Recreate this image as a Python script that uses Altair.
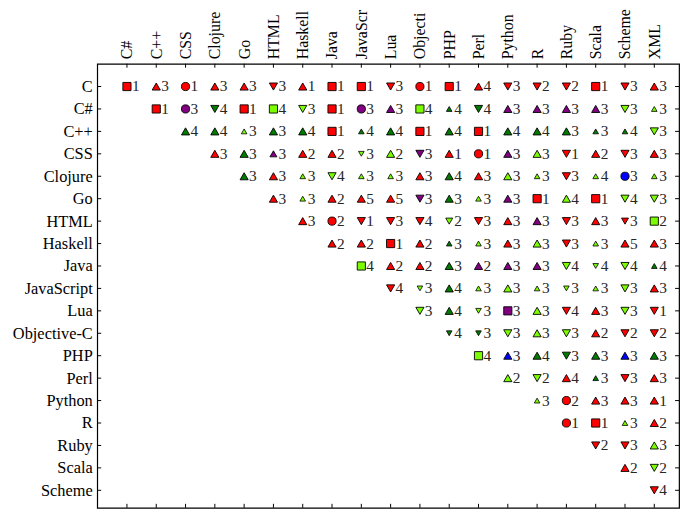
import altair as alt
import pandas as pd

FONT = "Liberation Serif"

rows = ["C", "C#", "C++", "CSS", "Clojure", "Go", "HTML", "Haskell", "Java",
        "JavaScript", "Lua", "Objective-C", "PHP", "Perl", "Python", "R",
        "Ruby", "Scala", "Scheme"]
col_labels = ["C#", "C++", "CSS", "Clojure", "Go", "HTML", "Haskell", "Java",
              "JavaScr", "Lua", "Objecti", "PHP", "Perl", "Python", "R",
              "Ruby", "Scala", "Scheme", "XML"]

# cell codes: shape (s square, ^ up, v down, o circle), colour
# (r red, g green, l light green, p purple, b blue), size class (L/M/S), value
row_C = ["srL1", "^rL3", "orL1", "^rL3", "^rL3", "vrL3", "^rL1", "srL1", "srL1", "vrL3",
         "orL1", "srL1", "^rL4", "vrL3", "vrL2", "vrL2", "srL1", "vrL3", "^rL3"]
row_Csharp = ["srL1", "opL3", "vgL4", "srL1", "slL4", "vlL3", "srL1", "opL3", "^pL3",
              "slL4", "^gS4", "vgL4", "^pL3", "^pL3", "^pL3", "^pL3", "vlL3", "^lS3"]
row_Cpp = ["^gL4", "^gL4", "^lS3", "^gL3", "^gL4", "srL1", "^gS4", "^gL4", "srL1",
           "^gL4", "srL1", "^gL4", "^gL4", "^gL3", "^gS3", "^gS4", "vlL3"]
row_CSS = ["^rL3", "^gL3", "^pM3", "^rL2", "^rL2", "vlS3", "^lL2", "vpL3", "^rL1",
           "orL1", "^pL3", "^lL3", "vrL1", "^rL2", "vrL3", "^rL3"]
row_Clojure = ["^gL3", "^rL3", "^lS3", "vlL4", "^lS3", "^lS3", "^rL3", "^gL4", "^rL3",
               "^lL3", "^lS3", "vrL3", "^lS4", "obL3", "^lS3"]
row_Go = ["^rL3", "^lS3", "^rL2", "^rL5", "^rL5", "vpL3", "^gL3", "^lS3", "^pL3",
          "srL1", "^lL4", "srL1", "vlL4", "vlL3"]
row_HTML = ["^rL3", "orL2", "vrL1", "vrL3", "vrL4", "vlM2", "vrL3", "^rL3", "^pL3",
            "vrL3", "^rL3", "vrM3", "slL2"]
row_Haskell = ["^rL2", "^rL2", "srL1", "^rL2", "^gS3", "^lS3", "^rL3", "^lL3", "vrL3",
               "^lS3", "^rL5", "^rL3"]
row_Java = ["slL4", "^rL2", "^rL2", "^gL3", "^pL2", "^pL3", "^pL3", "vlL4", "vlS4",
            "vlL4", "^gS4"]
row_JavaScript = ["vrL4", "vlS3", "^gL4", "^lS3", "^lL3", "^lS3", "vlS3", "^lS3",
                  "vlL3", "^rL3"]
row_Lua = ["vlL3", "^gL4", "vlS3", "spL3", "^lL3", "vrL4", "^rL3", "vlL3", "vrL1"]
row_ObjC = ["vgS4", "vgS3", "vlL3", "^lL3", "vlL3", "^rL2", "vrL2", "vrL2"]
row_PHP = ["slL4", "^bL3", "^gL4", "vgL3", "^gL3", "^bL3", "^gL3"]
row_Perl = ["^lL2", "vlL2", "^rL4", "^gS3", "vrL3", "^rL3"]
row_Python = ["^lS3", "orL2", "^rL3", "^rL3", "^rL1"]
row_R = ["orL1", "srL1", "^lS3", "^rL2"]
row_Ruby = ["vrL2", "vrL3", "^lL3"]
row_Scala = ["^rL2", "vlL2"]
row_Scheme = ["vrL4"]

cell_rows = [row_C, row_Csharp, row_Cpp, row_CSS, row_Clojure, row_Go, row_HTML,
             row_Haskell, row_Java, row_JavaScript, row_Lua, row_ObjC, row_PHP,
             row_Perl, row_Python, row_R, row_Ruby, row_Scala, row_Scheme]

recs = []
for i, cells in enumerate(cell_rows):
    for k, code in enumerate(cells):
        recs.append({"row": i, "col": i + k, "shape": code[0], "colour": code[1],
                     "sz": code[2], "value": int(code[3:])})
df = pd.DataFrame(recs)
row_df = pd.DataFrame({"row": list(range(len(rows)))})
col_df = pd.DataFrame({"col": list(range(len(col_labels)))})

W, H = 587, 448
TICK = 4

def arr_expr(lst):
    return "[" + ",".join("'" + s + "'" for s in lst) + "][datum.value]"

xscale = alt.Scale(domain=[-1.015, 18.845], nice=False, zero=False)
yscale = alt.Scale(domain=[-1.016, 18.78], nice=False, zero=False, reverse=True)

xaxis = alt.Axis(orient="top", values=list(range(len(col_labels))),
                 labelExpr=arr_expr(col_labels), labelAngle=270, labelAlign="left",
                 labelBaseline="middle", labelPadding=5, labelFontSize=16,
                 title=None)
yaxis = alt.Axis(orient="left", values=list(range(len(rows))),
                 labelExpr=arr_expr(rows), labelPadding=5, title=None)

X = alt.X("col:Q", scale=xscale, axis=xaxis)
Y = alt.Y("row:Q", scale=yscale, axis=yaxis)

points = alt.Chart(df).mark_point(filled=True, stroke="black", opacity=1).encode(
    x=X, y=Y,
    shape=alt.Shape("shape:N", scale=alt.Scale(
        domain=["s", "^", "v", "o"],
        range=["square", "triangle-up", "triangle-down", "circle"]), legend=None),
    fill=alt.Fill("colour:N", scale=alt.Scale(
        domain=["r", "g", "l", "p", "b"],
        range=["#ff0000", "#007a00", "#7cfc00", "#800080", "#0000ff"]), legend=None),
    size=alt.Size("sz:N", scale=alt.Scale(domain=["L", "M", "S"], range=[68, 32, 22]),
                  legend=None),
    strokeWidth=alt.StrokeWidth("sz:N", scale=alt.Scale(domain=["L", "M", "S"],
                                                        range=[0.9, 0.8, 0]), legend=None),
)

texts = alt.Chart(df).mark_text(align="left", baseline="middle", dx=5, font=FONT,
                                fontSize=15.5, color="#262626").encode(
    x=X, y=Y, text="value:Q")

left_ticks = alt.Chart(row_df).mark_rule(color="black", strokeWidth=1).encode(
    y=Y, x=alt.value(0), x2=alt.value(TICK))
right_ticks = alt.Chart(row_df).mark_rule(color="black", strokeWidth=1).encode(
    y=Y, x=alt.value(W - TICK), x2=alt.value(W))
top_ticks = alt.Chart(col_df).mark_rule(color="black", strokeWidth=1).encode(
    x=X, y=alt.value(0), y2=alt.value(TICK))
bottom_ticks = alt.Chart(col_df).mark_rule(color="black", strokeWidth=1).encode(
    x=X, y=alt.value(H - TICK), y2=alt.value(H))

chart = alt.layer(left_ticks, right_ticks, top_ticks, bottom_ticks, points, texts).properties(
    width=W, height=H, background="white",
    padding={"left": 90, "top": 54, "right": 6, "bottom": 1},
    autosize=alt.AutoSizeParams(type="none"),
).configure_view(stroke="black", strokeWidth=1.2).configure_axis(
    domain=False, ticks=False, grid=False, labelFont=FONT, labelFontSize=16.5,
    labelColor="black"
)

chart.save("out.html", embed_options={"renderer": "svg", "actions": False})
